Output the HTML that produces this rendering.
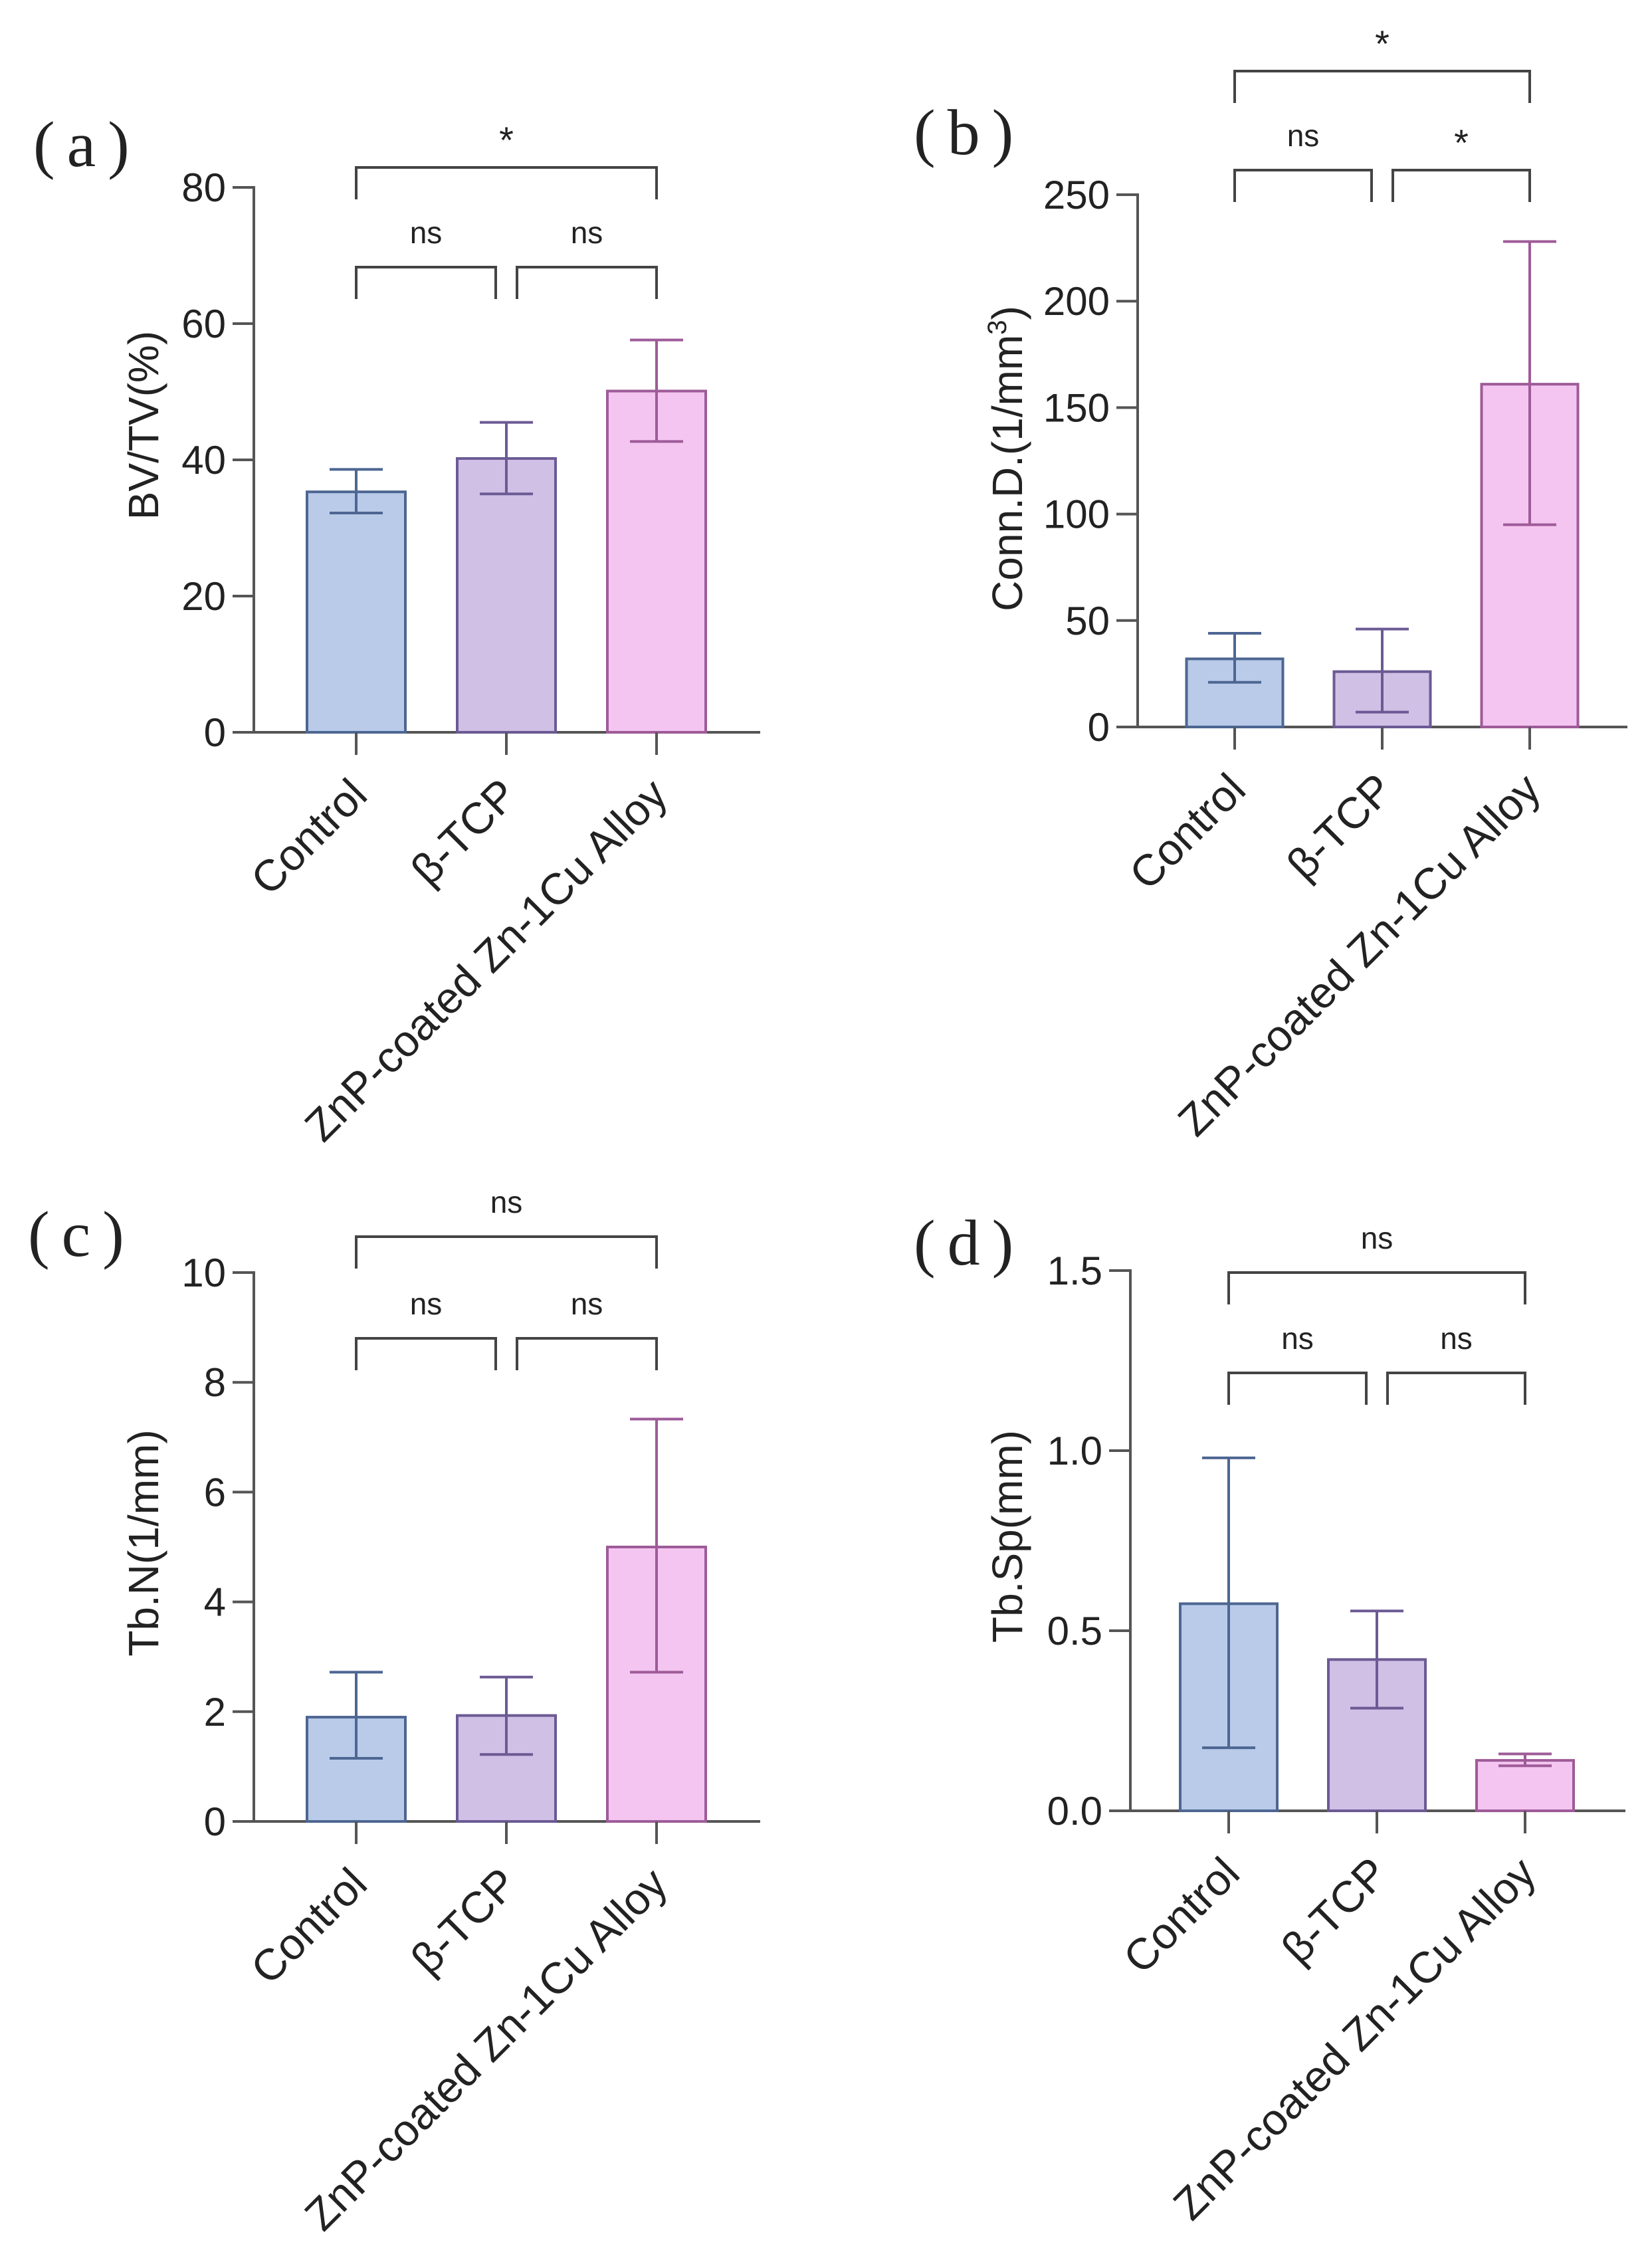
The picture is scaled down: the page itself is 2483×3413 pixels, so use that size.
<!DOCTYPE html>
<html><head><meta charset="utf-8">
<style>
html,body{margin:0;padding:0;background:#fff;}
svg{display:block;}
text{font-family:"Liberation Sans",Arial,sans-serif;fill:#222;}
.serif{font-family:"Liberation Serif","Times New Roman",serif;}
</style></head>
<body>
<svg id="fig" width="2483" height="3413" viewBox="0 0 2483 3413" xmlns="http://www.w3.org/2000/svg"></svg>
<script>
const categories = ["Control", "β-TCP", "ZnP-coated Zn-1Cu Alloy"];
const bvtvMean = [35.3, 40.2, 50.1];
const bvtvLow = [32.2, 35.0, 42.7];
const bvtvHigh = [38.6, 45.5, 57.6];
const bvtvTicks = [0, 20, 40, 60, 80];
const bvtvTickLabels = ["0", "20", "40", "60", "80"];
const bvtvSig = ["ns", "ns", "*"];

const connMean = [32, 26, 161];
const connLow = [21, 7, 95];
const connHigh = [44, 46, 228];
const connTicks = [0, 50, 100, 150, 200, 250];
const connTickLabels = ["0", "50", "100", "150", "200", "250"];
const connSig = ["ns", "*", "*"];

const tbnMean = [1.9, 1.93, 5.0];
const tbnLow = [1.15, 1.22, 2.72];
const tbnHigh = [2.72, 2.63, 7.33];
const tbnTicks = [0, 2, 4, 6, 8, 10];
const tbnTickLabels = ["0", "2", "4", "6", "8", "10"];
const tbnSig = ["ns", "ns", "ns"];

const tbspMean = [0.575, 0.42, 0.14];
const tbspLow = [0.175, 0.285, 0.125];
const tbspHigh = [0.98, 0.555, 0.158];
const tbspTicks = [0, 0.5, 1.0, 1.5];
const tbspTickLabels = ["0.0", "0.5", "1.0", "1.5"];
const tbspSig = ["ns", "ns", "ns"];

const NS = "http://www.w3.org/2000/svg";
const svg = document.getElementById("fig");
const fills = ["#b9cbe9", "#d0c0e6", "#f4c5f1"];
const strokes = ["#4d6692", "#6b5a93", "#9e5b98"];
const axisColor = "#555";

function mk(tag, attrs, parent) {
  const e = document.createElementNS(NS, tag);
  for (const k in attrs) e.setAttribute(k, attrs[k]);
  (parent || svg).appendChild(e);
  return e;
}

function drawPanel(p, mean, low, high, ticks, tickLabels, sig) {
  const g = mk("g", {});
  
  
  const y = v => p.y0 - (v / p.max) * (p.y0 - p.yTop);
  const cx = i => p.axX + p.first + i * p.step;

  const lt = mk("text", {x: p.lx, y: p.ly, "font-size": 98, "class": "serif", "letter-spacing": "18"}, g);
  lt.textContent = p.letter;
  
  

  const ya = mk("line", {x1: p.axX, y1: p.yTop - 2, x2: p.axX, y2: p.y0 + 2, stroke: axisColor, "stroke-width": 4}, g);
  
  
  const xa = mk("line", {x1: p.axX - 32, y1: p.y0, x2: p.xEnd, y2: p.y0, stroke: axisColor, "stroke-width": 4}, g);
  
  

  ticks.forEach((t, i) => {
    const tl = mk("line", {x1: p.axX - 32, y1: y(t), x2: p.axX, y2: y(t), stroke: axisColor, "stroke-width": 4}, g);
    
    
    const tx = mk("text", {x: p.axX - 42, y: y(t) + 21, "font-size": 60, "text-anchor": "end"}, g);
    tx.textContent = tickLabels[i];
    
    
  });

  const yt = mk("text", {x: 0, y: 0, "font-size": 64, "text-anchor": "middle", transform: `translate(${p.tx},${p.ty}) rotate(-90)`}, g);
  
  
  if (p.title2) {
    yt.textContent = p.title;
    const sup = mk("tspan", {"font-size": 40, dy: -24}, yt);
    sup.textContent = p.title2;
    const rest = mk("tspan", {dy: 24}, yt);
    rest.textContent = ")";
  } else {
    yt.textContent = p.title;
  }

  categories.forEach((c, i) => {
    const x = cx(i);
    const bar = mk("rect", {x: x - p.bw / 2, y: y(mean[i]), width: p.bw, height: p.y0 - y(mean[i]), fill: fills[i], stroke: strokes[i], "stroke-width": 4}, g);
    
    
    const eb = mk("path", {d: `M${x},${y(low[i])}V${y(high[i])}M${x - 40},${y(high[i])}H${x + 40}M${x - 40},${y(low[i])}H${x + 40}`, stroke: strokes[i], "stroke-width": 4, fill: "none"}, g);
    
    
    const tk = mk("line", {x1: x, y1: p.y0, x2: x, y2: p.y0 + 34, stroke: axisColor, "stroke-width": 4}, g);
    
    
    const cl = mk("text", {x: 0, y: 0, "font-size": 66, "text-anchor": "end", transform: `translate(${x + 20},${p.y0 + 98}) rotate(-45)`}, g);
    cl.textContent = c;
    
    
  });

  const c0 = cx(0), c1 = cx(1), c2 = cx(2);
  const br = [
    [c0, c1 - 16, p.bLow, sig[0]],
    [c1 + 16, c2, p.bLow, sig[1]],
    [c0, c2, p.bTop, sig[2]]
  ];
  br.forEach(b => {
    const pb = mk("path", {d: `M${b[0]},${b[2] + 48}V${b[2]}H${b[1]}V${b[2] + 48}`, stroke: "#444", "stroke-width": 4, fill: "none"}, g);
    
    
    const st = mk("text", {x: (b[0] + b[1]) / 2, y: b[2] - (b[3] === "*" ? 22 : 36), "font-size": b[3] === "*" ? 56 : 46, "text-anchor": "middle"}, g);
    st.textContent = b[3];
    
    
  });
}

drawPanel({name: "panel-a-bvtv", letter: "(a)", lx: 50, ly: 250, axX: 382, y0: 1102, yTop: 282, max: 80, first: 154, step: 226, bw: 148, xEnd: 1144, tx: 238, ty: 640, title: "BV/TV(%)", bTop: 252, bLow: 402},
  bvtvMean, bvtvLow, bvtvHigh, bvtvTicks, bvtvTickLabels, bvtvSig);
drawPanel({name: "panel-b-conn-d", letter: "(b)", lx: 1375, ly: 232, axX: 1712, y0: 1094, yTop: 293, max: 250, first: 146, step: 222, bw: 145, xEnd: 2449, tx: 1538, ty: 690, title: "Conn.D.(1/mm", title2: "3", bTop: 107, bLow: 256},
  connMean, connLow, connHigh, connTicks, connTickLabels, connSig);
drawPanel({name: "panel-c-tbn", letter: "(c)", lx: 42, ly: 1890, axX: 382, y0: 2741, yTop: 1915, max: 10, first: 154, step: 226, bw: 148, xEnd: 1144, tx: 238, ty: 2322, title: "Tb.N(1/mm)", bTop: 1861, bLow: 2014},
  tbnMean, tbnLow, tbnHigh, tbnTicks, tbnTickLabels, tbnSig);
drawPanel({name: "panel-d-tbsp", letter: "(d)", lx: 1375, ly: 1903, axX: 1701, y0: 2725, yTop: 1912, max: 1.5, first: 148, step: 223, bw: 146, xEnd: 2446, tx: 1538, ty: 2312, title: "Tb.Sp(mm)", bTop: 1915, bLow: 2066},
  tbspMean, tbspLow, tbspHigh, tbspTicks, tbspTickLabels, tbspSig);
</script>
</body></html>
